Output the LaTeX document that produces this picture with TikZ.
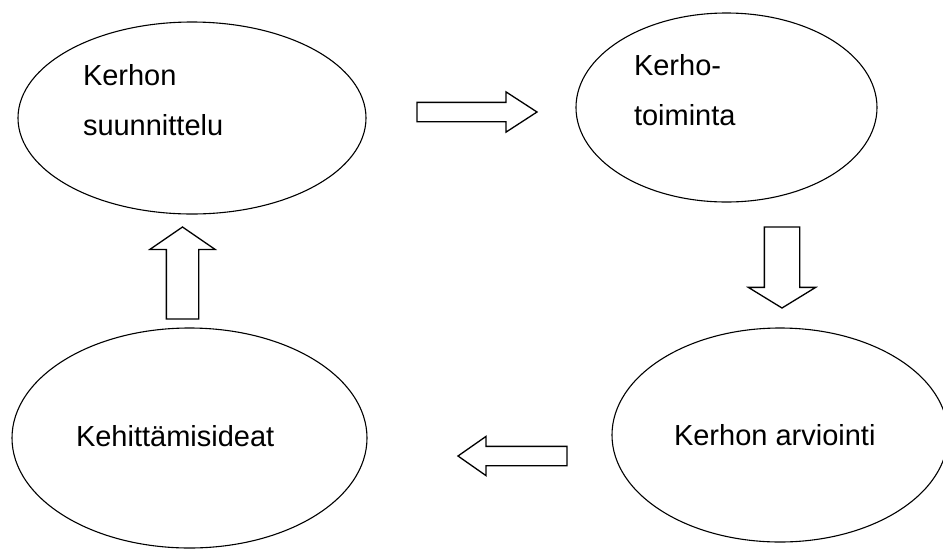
\documentclass[tikz,border=0pt]{standalone}
\usepackage{fontspec}
\setmainfont{Liberation Sans}
\usetikzlibrary{shapes.geometric,shapes.arrows}
\tikzset{
% phases of the cycle
phase/.style={ellipse, draw=black, line width=1.1pt, inner sep=0, outer sep=0},
phasetext/.style={inner sep=0, outer sep=0, anchor=base west},
% hollow block arrows
bigarrow/.style={single arrow, draw=black, fill=white, line width=1.3pt,
  outer sep=0, minimum width=0pt, single arrow head indent=0pt}
}

\begin{document}
\begin{tikzpicture}[x=1pt, y=-1pt, font=\fontsize{29}{34}\selectfont]
  \useasboundingbox (0,0) rectangle (943,550);
  \clip (0,0) rectangle (943,550);

  \node[phase, minimum width=348pt, minimum height=192pt] (plan) at (192,118) {};
  \node[phase, minimum width=301pt, minimum height=189pt] (action) at (726.5,107.5) {};
  \node[phase, minimum width=336pt, minimum height=214pt] (review) at (780,435) {};
  \node[phase, minimum width=355pt, minimum height=220pt] (ideas) at (189.5,438) {};

  % texts
  \node[phasetext] (plan1) at (83,85) {Kerhon};
  \node[phasetext] (plan2) at (83,135) {suunnittelu};
  \node[phasetext] (action1) at (634,75.5) {Kerho-};
  \node[phasetext] (action2) at (634,125.5) {toiminta};
  \node[phasetext] (review1) at (674,445.5) {Kerhon arviointi};
  \node[phasetext] (ideas1) at (76,446) {Kehittämisideat};

  % arrows
  \node[bigarrow, inner sep=9pt, single arrow head extend=10.5pt,
    single arrow tip angle=66, minimum height=120pt, anchor=tail] (toaction) at (417,112) {};
  \node[bigarrow, shape border rotate=270, inner sep=17pt, single arrow head extend=16pt,
    single arrow tip angle=117, minimum height=81pt, anchor=tail] (toreview) at (782,227) {};
  \node[bigarrow, shape border rotate=180, inner sep=9pt, single arrow head extend=10pt,
    single arrow tip angle=70, minimum height=109pt, anchor=tail] (toideas) at (567,456) {};
  \node[bigarrow, shape border rotate=90, inner sep=15.5pt, single arrow head extend=16.5pt,
    single arrow tip angle=111, minimum height=92pt, anchor=tail] (toplan) at (182.5,319) {};
\end{tikzpicture}
\end{document}
